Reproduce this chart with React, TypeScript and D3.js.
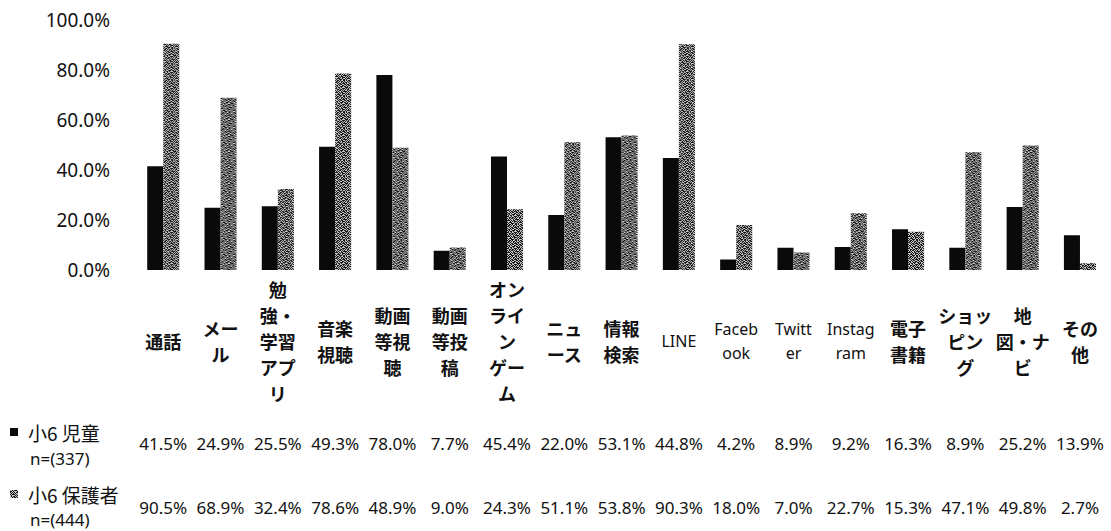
import React from "react";
import * as d3 from "d3";

const categories: string[][] = [
  ["通話"],
  ["メー", "ル"],
  ["勉", "強・", "学習", "アプ", "リ"],
  ["音楽", "視聴"],
  ["動画", "等視", "聴"],
  ["動画", "等投", "稿"],
  ["オン", "ライ", "ン", "ゲー", "ム"],
  ["ニュ", "ース"],
  ["情報", "検索"],
  ["LINE"],
  ["Faceb", "ook"],
  ["Twitt", "er"],
  ["Instag", "ram"],
  ["電子", "書籍"],
  ["ショッ", "ピン", "グ"],
  ["地", "図・ナ", "ビ"],
  ["その", "他"],
];

const childValues = [41.5, 24.9, 25.5, 49.3, 78.0, 7.7, 45.4, 22.0, 53.1, 44.8, 4.2, 8.9, 9.2, 16.3, 8.9, 25.2, 13.9];
const parentValues = [90.5, 68.9, 32.4, 78.6, 48.9, 9.0, 24.3, 51.1, 53.8, 90.3, 18.0, 7.0, 22.7, 15.3, 47.1, 49.8, 2.7];
const yTicks = [0, 20, 40, 60, 80, 100];
const seriesNames = ["小6 児童", "小6 保護者"];
const seriesN = ["n=(337)", "n=(444)"];

const W = 1111;
const H = 531;

// deterministic speckle bitmap for the hatched fill (styling only)
const speckle = [
  "1011010011010110",
  "0110101101001011",
  "1101001010110100",
  "0010110111010011",
  "1001011001101101",
  "0110100110010110",
  "1010011101101001",
  "0101101000111010",
  "1100100111010101",
  "0011011010101100",
  "1010110101001011",
  "0101001011110100",
  "1110101100101010",
  "0001010111010101",
  "1011100100101110",
  "0100111011010001",
];

export default function App() {
  const idx = categories.map((_, i) => String(i));
  const x = d3.scaleBand<string>().domain(idx).range([134.6, 1108.6]).paddingInner(0.44).paddingOuter(0.22);
  const x1 = d3.scaleBand<string>().domain(["c", "p"]).range([0, x.bandwidth()]);
  const y = d3.scaleLinear().domain([0, 100]).range([270, 20]);
  const fmt = (v: number) => v.toFixed(1) + "%";
  const jp = "'Noto Sans CJK JP', 'Noto Sans', sans-serif";
  const lat = "'Noto Sans', 'Open Sans', sans-serif";
  const isLatin = (s: string) => /^[A-Za-z]+$/.test(s);
  const lineH = 26;
  const labelCenter = 341;
  const n = speckle.length;

  return (
    <svg width={W} height={H} style={{ position: "absolute", left: 0, top: 0, background: "#fff" }}>
      <defs>
        <pattern id="spk" width={n} height={n} patternUnits="userSpaceOnUse">
          <rect width={n} height={n} fill="#c8c8c8" />
          {speckle.flatMap((row, r) =>
            row.split("").map((c, k) =>
              c === "1" ? <rect key={r + "-" + k} x={k} y={r} width={1} height={1} fill="#151515" /> : null
            )
          )}
        </pattern>
      </defs>
      <rect width={W} height={H} fill="#fff" />
      {yTicks.map((t) => (
        <text key={t} x={110} y={y(t)} textAnchor="end" dominantBaseline="central" fontFamily={lat} fontSize={19} fill="#111">
          {t.toFixed(1) + "%"}
        </text>
      ))}
      {idx.map((k, i) => (
        <g key={k} transform={`translate(${x(k)},0)`}>
          <rect x={x1("c")} y={y(childValues[i])} width={x1.bandwidth()} height={y(0) - y(childValues[i])} fill="#0a0a0a" />
          <rect x={x1("p")} y={y(parentValues[i])} width={x1.bandwidth()} height={y(0) - y(parentValues[i])} fill="url(#spk)" />
        </g>
      ))}
      {idx.map((k, i) => {
        const lines = categories[i];
        const cx = (x(k) as number) + x.bandwidth() / 2;
        const latin = lines.every(isLatin);
        const lh = latin ? 24 : lineH;
        const start = labelCenter - ((lines.length - 1) * lh) / 2;
        return (
          <text key={k} textAnchor="middle" fontFamily={latin ? lat : jp} fontSize={latin ? 16 : 18} fontWeight={latin ? 400 : 700} fill="#111">
            {lines.map((l, j) => (
              <tspan key={j} x={cx} y={start + j * lh} dominantBaseline="central">
                {l}
              </tspan>
            ))}
          </text>
        );
      })}
      {[childValues, parentValues].map((vals, r) =>
        idx.map((k, i) => (
          <text key={r + "-" + k} x={(x(k) as number) + x.bandwidth() / 2} y={r === 0 ? 443 : 507} textAnchor="middle" dominantBaseline="central" fontFamily={lat} fontSize={17} fill="#111">
            {fmt(vals[i])}
          </text>
        ))
      )}
      {seriesNames.map((s, r) => {
        const yy = r === 0 ? 432 : 494;
        return (
          <g key={s}>
            <rect x={10} y={yy - 4} width={8} height={8} fill={r === 0 ? "#0a0a0a" : "url(#spk)"} />
            <text x={28} y={yy} dominantBaseline="central" fontFamily={jp} fontSize={19} fill="#111">{s}</text>
            <text x={30} y={r === 0 ? 458 : 519} dominantBaseline="central" fontFamily={lat} fontSize={17} fill="#111">{seriesN[r]}</text>
          </g>
        );
      })}
    </svg>
  );
}
